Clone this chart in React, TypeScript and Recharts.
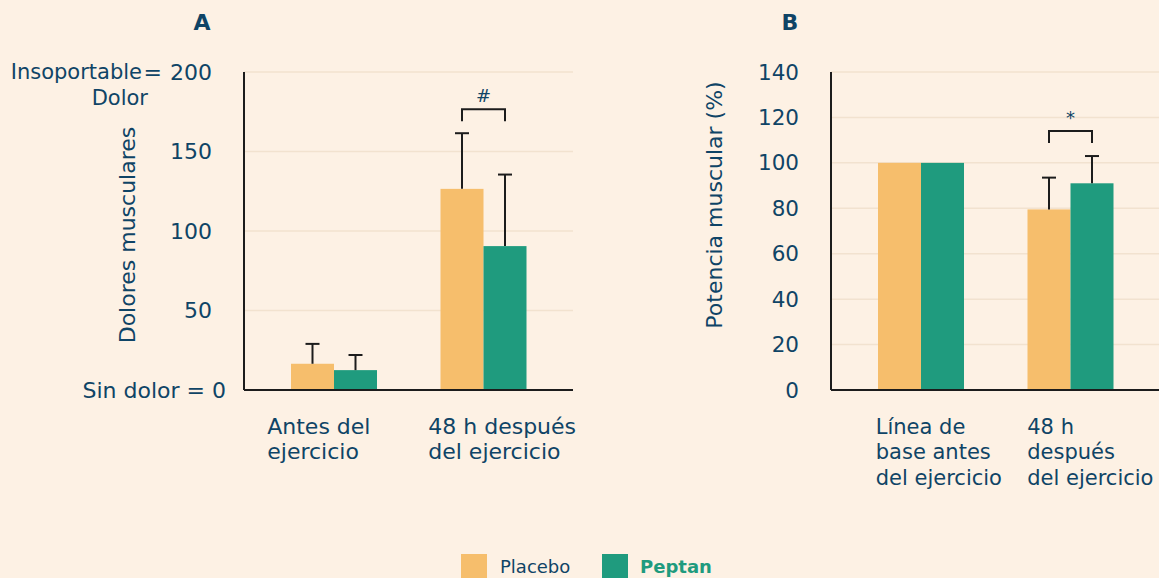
import { BarChart, Bar, XAxis, YAxis, CartesianGrid, Label } from "recharts";

const BG = "#fdf1e4";
const NAVY = "#0f4466";
const PLACEBO = "#f6be6c";
const PEPTAN = "#1f9b7e";
const INK = "#1c1c1c";
const FONT = "'DejaVu Sans', Verdana, sans-serif";

// panel A: dolores musculares
const painCategories = ["Antes del\nejercicio", "48 h después\ndel ejercicio"];
const painPlacebo = [16.5, 126.5];
const painPeptan = [12.5, 90.5];
const painPlaceboErr = [12.5, 35];
const painPeptanErr = [9.5, 45];
const painBracket = [null, 176.5];
const painMark = ["", "#"];
const painTicks = [0, 50, 100, 150, 200];

// panel B: potencia muscular
const powerCategories = ["Línea de\nbase antes\ndel ejercicio", "48 h\ndespués\ndel ejercicio"];
const powerPlacebo = [100, 79.5];
const powerPeptan = [100, 91];
const powerPlaceboErr = [0, 14];
const powerPeptanErr = [0, 12];
const powerBracket = [null, 114];
const powerMark = ["", "*"];
const powerTicks = [0, 20, 40, 60, 80, 100, 120, 140];

const build = (cats: string[], p: number[], q: number[], pe: number[], qe: number[], br: (number | null)[], mk: string[]) =>
  cats.map((name, i) => ({ name, placebo: p[i], peptan: q[i], placeboErr: pe[i], peptanErr: qe[i], bracket: br[i], mark: mk[i] }));

const painData = build(painCategories, painPlacebo, painPeptan, painPlaceboErr, painPeptanErr, painBracket, painMark);
const powerData = build(powerCategories, powerPlacebo, powerPeptan, powerPlaceboErr, powerPeptanErr, powerBracket, powerMark);

function barShape(fill: string, valueKey: string, errKey: string, withBracket: boolean) {
  return (props: any) => {
    const { x, y, width, height, payload } = props;
    const v = payload[valueKey];
    const k = v ? height / v : 0;
    const err = payload[errKey];
    const cx = x + width / 2;
    const parts = [<rect key="r" x={x} y={y} width={width} height={height} fill={fill} />];
    if (err) {
      const ty = y - err * k;
      parts.push(<line key="e" x1={cx} x2={cx} y1={y} y2={ty} stroke={INK} strokeWidth={2} />);
      parts.push(<line key="c" x1={cx - 7} x2={cx + 7} y1={ty} y2={ty} stroke={INK} strokeWidth={2} />);
    }
    if (withBracket && payload.bracket != null) {
      const by = y + height - payload.bracket * k;
      const x2 = cx + width;
      parts.push(
        <path key="b" d={`M${cx},${by + 12} V${by} H${x2} V${by + 12}`} fill="none" stroke={INK} strokeWidth={2} />
      );
      parts.push(
        <text key="m" x={(cx + x2) / 2} y={by - 7} textAnchor="middle" fontSize={18} fill={NAVY} fontFamily={FONT}>
          {payload.mark}
        </text>
      );
    }
    return <g>{parts}</g>;
  };
}

function catTick(offsets: number[], fs: number) {
  return (props: any) => {
    const { x, y, payload, index } = props;
    const lines = String(payload.value).split("\n");
    return (
      <text x={x + offsets[index]} y={y} textAnchor="start" fontSize={fs} fill={NAVY} fontFamily={FONT}>
        {lines.map((l, i) => (
          <tspan key={i} x={x + offsets[index]} y={y + 36 + i * 25.5 + 7.5}>
            {l}
          </tspan>
        ))}
      </text>
    );
  };
}

const painTick = (props: any) => {
  const { x, y, payload } = props;
  const common = { fontSize: 22, fill: NAVY, fontFamily: FONT, dy: "0.35em" };
  if (payload.value === 200) {
    return (
      <g>
        <text x={x - 32} y={y} textAnchor="end" {...common}>200</text>
        <text x={x - 82} y={y} textAnchor="end" {...common}>=</text>
        <text x={x - 102} y={y} textAnchor="end" {...common} fontSize={21}>Insoportable</text>
        <text x={x - 96} y={y + 25.5} textAnchor="end" {...common} fontSize={21}>Dolor</text>
      </g>
    );
  }
  if (payload.value === 0) {
    return <text x={x - 18} y={y} textAnchor="end" {...common}>Sin dolor = 0</text>;
  }
  return <text x={x - 32} y={y} textAnchor="end" {...common}>{payload.value}</text>;
};

const plainTick = (props: any) => {
  const { x, y, payload } = props;
  return (
    <text x={x - 32} y={y} textAnchor="end" fontSize={21.5} fill={NAVY} fontFamily={FONT} dy="0.35em">
      {payload.value}
    </text>
  );
};

function axisTitle(text: string, dy: number) {
  return (props: any) => {
    const { viewBox } = props;
    const cx = viewBox.x + viewBox.width - 117;
    const cy = viewBox.y + viewBox.height / 2 + dy;
    return (
      <text x={cx} y={cy} transform={`rotate(-90 ${cx} ${cy})`} textAnchor="middle" dy="0.35em" fontSize={22} fill={NAVY} fontFamily={FONT}>
        {text}
      </text>
    );
  };
}

type PanelProps = {
  data: any[];
  ticks: number[];
  max: number;
  tick: any;
  title: string;
  titleDy: number;
  offsets: number[];
  catSize: number;
};

function Panel({ data, ticks, max, tick, title, titleDy, offsets, catSize }: PanelProps) {
  return (
    <BarChart width={587} height={520} data={data} margin={{ top: 72, right: 14, bottom: 50, left: 0 }} barGap={0} barSize={43}>
      <CartesianGrid vertical={false} stroke="#f2e2cf" strokeWidth={1.5} />
      <XAxis
        dataKey="name"
        height={80}
        padding={{ left: 15, right: 15 }}
        axisLine={{ stroke: INK, strokeWidth: 2 }}
        tickLine={false}
        tickSize={0}
        tickMargin={0}
        interval={0}
        tick={catTick(offsets, catSize)}
      />
      <YAxis
        width={244}
        domain={[0, max]}
        ticks={ticks}
        interval={0}
        axisLine={{ stroke: INK, strokeWidth: 2 }}
        tickLine={false}
        tickSize={0}
        tickMargin={0}
        tick={tick}
      >
        <Label content={axisTitle(title, titleDy)} />
      </YAxis>
      <Bar dataKey="placebo" fill={PLACEBO} isAnimationActive={false} shape={barShape(PLACEBO, "placebo", "placeboErr", true)} />
      <Bar dataKey="peptan" fill={PEPTAN} isAnimationActive={false} shape={barShape(PEPTAN, "peptan", "peptanErr", false)} />
    </BarChart>
  );
}

export default function App() {
  return (
    <div style={{ width: 1159, height: 578, background: BG, position: "relative", overflow: "hidden", fontFamily: FONT }}>
      <style>{`body{margin:0}`}</style>
      <div style={{ position: "absolute", left: 0, top: 0 }}>
        <Panel data={painData} ticks={painTicks} max={200} tick={painTick} title="Dolores musculares" titleDy={4} offsets={[-66.5, -55]} catSize={22} />
      </div>
      <div style={{ position: "absolute", left: 587, top: 0 }}>
        <Panel data={powerData} ticks={powerTicks} max={140} tick={plainTick} title="Potencia muscular (%)" titleDy={-26} offsets={[-45, -43]} catSize={21} />
      </div>
      <div style={{ position: "absolute", left: 191, top: 10, width: 22, textAlign: "center", fontWeight: "bold", fontSize: 22, color: NAVY }}>A</div>
      <div style={{ position: "absolute", left: 779, top: 10, width: 22, textAlign: "center", fontWeight: "bold", fontSize: 22, color: NAVY }}>B</div>
      <div style={{ position: "absolute", left: 461, top: 554, width: 26, height: 26, background: PLACEBO }} />
      <div style={{ position: "absolute", left: 500, top: 556, fontSize: 18, color: NAVY, lineHeight: "22px" }}>Placebo</div>
      <div style={{ position: "absolute", left: 602, top: 554, width: 26, height: 26, background: PEPTAN }} />
      <div style={{ position: "absolute", left: 640, top: 556, fontSize: 18, fontWeight: "bold", color: PEPTAN, lineHeight: "22px" }}>Peptan</div>
    </div>
  );
}
